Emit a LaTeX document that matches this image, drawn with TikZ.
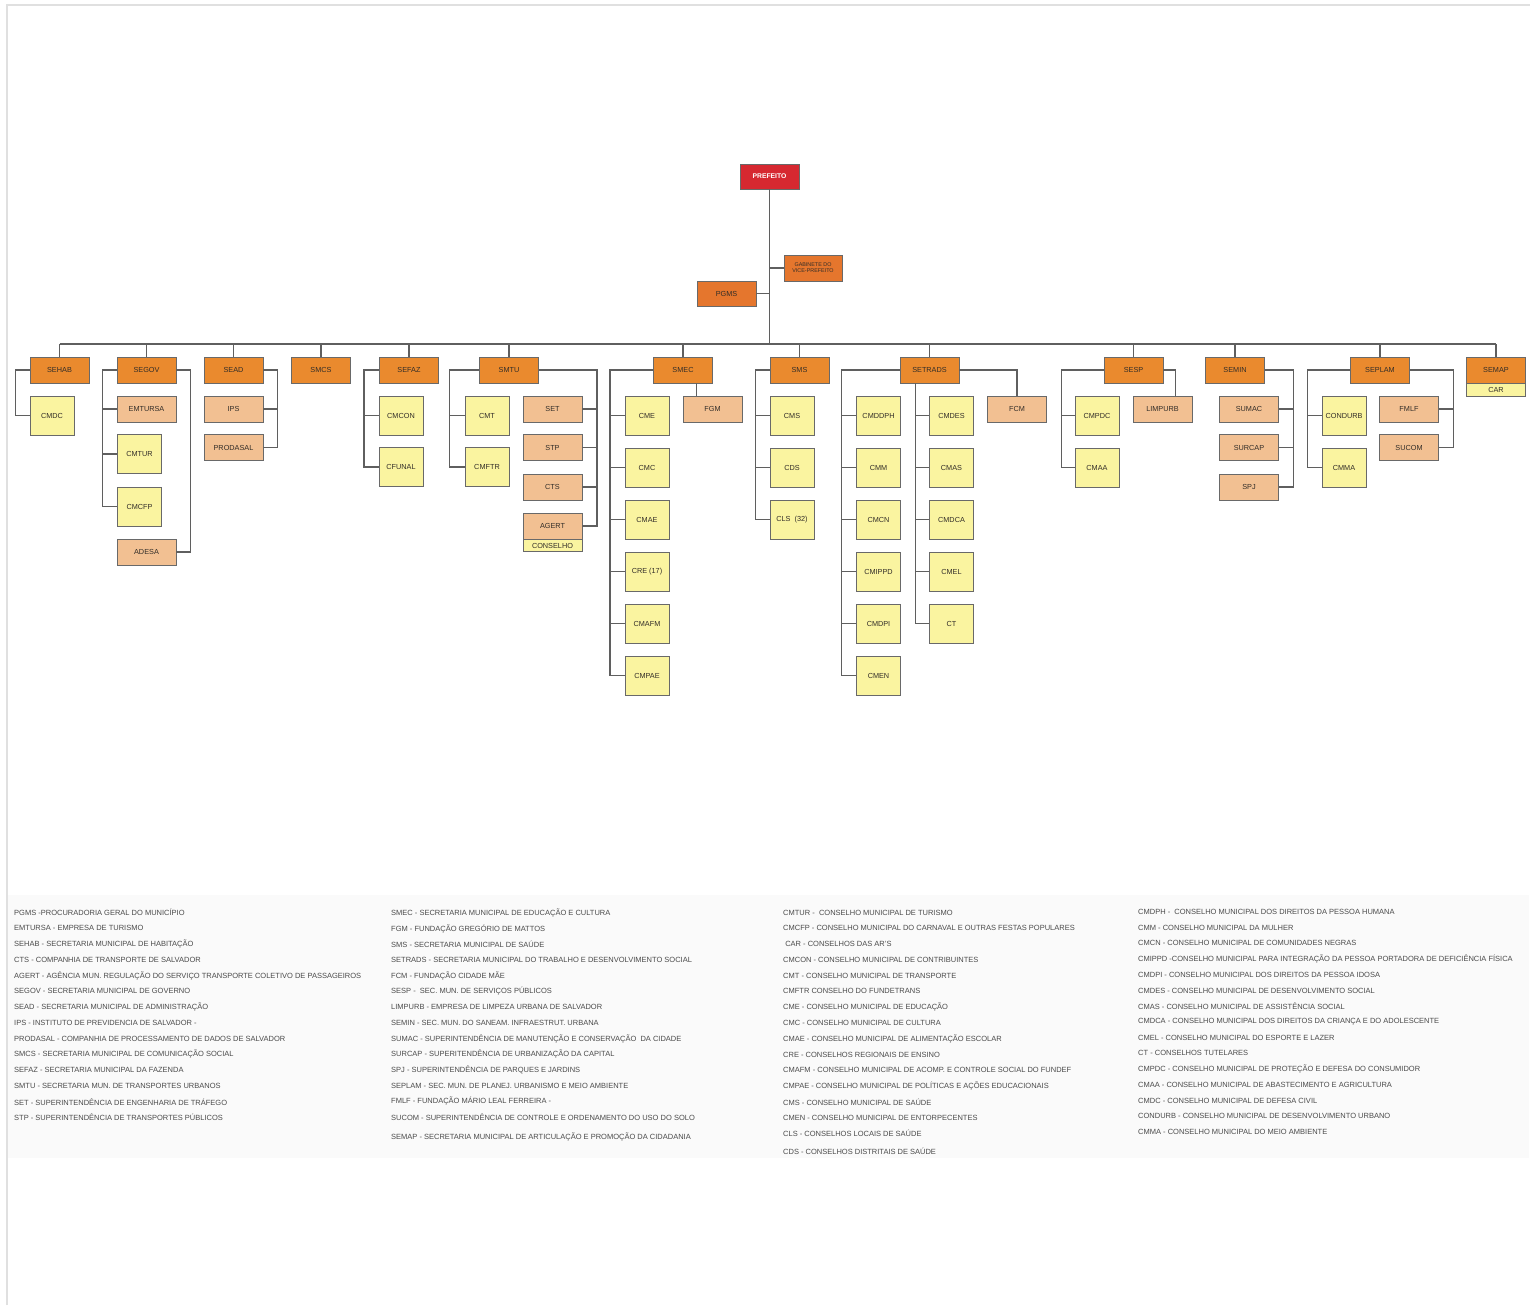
\documentclass[tikz,border=0pt]{standalone}
\usepackage{fontspec}
\setmainfont{Liberation Sans}
\definecolor{orgC}{RGB}{234,138,46}
\definecolor{pgmC}{RGB}{229,118,45}
\definecolor{peachC}{RGB}{242,192,146}
\definecolor{yelC}{RGB}{250,244,160}
\definecolor{redC}{RGB}{214,40,48}
\definecolor{bordC}{RGB}{105,105,105}
\definecolor{lineC}{RGB}{95,95,95}
\definecolor{txtC}{RGB}{50,45,40}
\definecolor{legC}{RGB}{75,75,75}
\tikzset{
  box/.style={draw=bordC, line width=0.9pt, inner sep=0pt, align=center,
              font=\fontsize{7.3}{8}\selectfont, text=txtC},
  topbox/.style={box, fill=orgC, minimum width=59pt, minimum height=26pt},
  subbox/.style={box, fill=peachC, minimum width=59pt, minimum height=26pt},
  conbox/.style={box, fill=yelC, minimum width=44pt, minimum height=39pt},
  bandbox/.style={box, fill=yelC, minimum width=59pt, minimum height=12pt, anchor=north},
  link/.style={draw=lineC, line width=1.3pt},
  leg/.style={anchor=west, inner sep=0pt, font=\fontsize{7.5}{8}\selectfont, text=legC}
}
\begin{document}
\begin{tikzpicture}[x=1pt,y=-1pt]
\useasboundingbox (0,0) rectangle (1533,1307);
\fill[white] (0,0) rectangle (1533,1307);
\fill[black!2] (8,895) rectangle (1529,1158);
\draw[black!12, line width=1.5pt] (7,1305) -- (7,5) -- (1530,5);

% ---------- top ----------
\node[box, fill=redC, minimum width=59pt, minimum height=25pt, text=white,
      font=\fontsize{6.8}{8}\bfseries] (prefeito) at (769.5,176.5) {PREFEITO};
\node[box, fill=pgmC, minimum width=58pt, minimum height=26pt,
      font=\fontsize{5.4}{6}\selectfont] (gab) at (813,268) {GABINETE DO\\VICE-PREFEITO};
\node[box, fill=pgmC, minimum width=59pt, minimum height=25pt] (pgms) at (726.5,293.5) {PGMS};
\coordinate (bus) at (769.5,344);

% ---------- secretarias ----------
\node[topbox] (sehab)   at (59.5,370)  {SEHAB};
\node[topbox] (segov)   at (146.5,370) {SEGOV};
\node[topbox] (sead)    at (233.5,370) {SEAD};
\node[topbox] (smcs)    at (321,370)   {SMCS};
\node[topbox] (sefaz)   at (409,370)   {SEFAZ};
\node[topbox] (smtu)    at (509,370)   {SMTU};
\node[topbox] (smec)    at (683,370)   {SMEC};
\node[topbox] (sms)     at (799.5,370) {SMS};
\node[topbox] (setrads) at (929.5,370) {SETRADS};
\node[topbox] (sesp)    at (1133.5,370){SESP};
\node[topbox] (semin)   at (1235,370)  {SEMIN};
\node[topbox] (seplam)  at (1380,370)  {SEPLAM};
\node[topbox] (semap)   at (1496,370)  {SEMAP};
\node[bandbox, minimum height=13pt] (car) at (semap.south) {CAR};

% ---------- children ----------
\node[conbox] (cmdc) at (52,415.5) {CMDC};

\node[subbox] (emtursa) at (146.5,409) {EMTURSA};
\node[conbox] (cmtur)   at (139.5,454) {CMTUR};
\node[conbox] (cmcfp)   at (139.5,506.5) {CMCFP};
\node[subbox] (adesa)   at (146.5,552) {ADESA};

\node[subbox] (ips)      at (233.5,409)   {IPS};
\node[subbox] (prodasal) at (233.5,447.5) {PRODASAL};

\node[conbox] (cmcon)  at (401,415.5) {CMCON};
\node[conbox] (cfunal) at (401,467)   {CFUNAL};

\node[conbox] (cmt)   at (487,415.5) {CMT};
\node[conbox] (cmftr) at (487,467)   {CMFTR};
\node[subbox] (set)   at (552.5,409)   {SET};
\node[subbox] (stp)   at (552.5,447.5) {STP};
\node[subbox] (cts)   at (552.5,487)   {CTS};
\node[subbox] (agert) at (552.5,526)   {AGERT};
\node[bandbox] (conselho) at (agert.south) {CONSELHO};

\node[subbox] (fgm) at (712.5,409) {FGM};
\node[conbox] (cme)   at (647,415.5) {CME};
\node[conbox] (cmc)   at (647,467.5) {CMC};
\node[conbox] (cmae)  at (647,519.5) {CMAE};
\node[conbox] (cre)   at (647,571.5) {CRE (17)};
\node[conbox] (cmafm) at (647,623.5) {CMAFM};
\node[conbox] (cmpae) at (647,675.5) {CMPAE};

\node[conbox] (cms) at (792,415.5) {CMS};
\node[conbox] (cds) at (792,467.5) {CDS};
\node[conbox] (cls) at (792,519.5) {CLS\ \ (32)};

\node[conbox] (cmddph) at (878.5,415.5) {CMDDPH};
\node[conbox] (cmm)    at (878.5,467.5) {CMM};
\node[conbox] (cmcn)   at (878.5,519.5) {CMCN};
\node[conbox] (cmippd) at (878.5,571.5) {CMIPPD};
\node[conbox] (cmdpi)  at (878.5,623.5) {CMDPI};
\node[conbox] (cmen)   at (878.5,675.5) {CMEN};
\node[conbox] (cmdes)  at (951.5,415.5) {CMDES};
\node[conbox] (cmas)   at (951.5,467.5) {CMAS};
\node[conbox] (cmdca)  at (951.5,519.5) {CMDCA};
\node[conbox] (cmel)   at (951.5,571.5) {CMEL};
\node[conbox] (ct)     at (951.5,623.5) {CT};
\node[subbox] (fcm)    at (1017,409)    {FCM};

\node[conbox] (cmpdc)   at (1097,415.5)  {CMPDC};
\node[conbox] (cmaa)    at (1097,467.5)  {CMAA};
\node[subbox] (limpurb) at (1162.5,409)  {LIMPURB};

\node[subbox] (sumac)  at (1249,409)   {SUMAC};
\node[subbox] (surcap) at (1249,447.5) {SURCAP};
\node[subbox] (spj)    at (1249,487)   {SPJ};

\node[conbox] (condurb) at (1344,415.5) {CONDURB};
\node[conbox] (cmma)    at (1344,467.5) {CMMA};
\node[subbox] (fmlf)    at (1409,409)   {FMLF};
\node[subbox] (sucom)   at (1409,447.5) {SUCOM};

% ---------- connectors ----------
\draw[link] (prefeito.south) -- (bus);
\draw[link] (prefeito.south |- gab.west) -- (gab.west);
\draw[link] (pgms.east) -- (prefeito.south |- pgms.east);
\draw[link] (sehab.north |- bus) -- (semap.north |- bus);
\foreach \n in {sehab,segov,sead,smcs,sefaz,smtu,smec,sms,setrads,sesp,semin,seplam,semap}
  \draw[link] (\n.north) -- (\n.north |- bus);

\draw[link] (sehab.west) -- ++(-14,0) |- (cmdc.west);

\draw[link] (segov.west) -- ++(-14,0) coordinate (gL) |- (cmcfp.west);
\foreach \n in {emtursa,cmtur} \draw[link] (gL |- \n.west) -- (\n.west);
\draw[link] (segov.east) -- ++(14,0) |- (adesa.east);

\draw[link] (sead.east) -- ++(14,0) coordinate (sR) |- (prodasal.east);
\draw[link] (sR |- ips.east) -- (ips.east);

\draw[link] (sefaz.west) -- ++(-15,0) coordinate (fL) |- (cfunal.west);
\draw[link] (fL |- cmcon.west) -- (cmcon.west);

\draw[link] (smtu.west) -- ++(-29.5,0) coordinate (tL) |- (cmftr.west);
\draw[link] (tL |- cmt.west) -- (cmt.west);
\draw[link] (smtu.east) -- ++(58,0) coordinate (tR) |- (agert.east);
\foreach \n in {set,stp,cts} \draw[link] (tR |- \n.east) -- (\n.east);

\draw[link] (smec.west) -- ++(-43,0) coordinate (eL) |- (cmpae.west);
\foreach \n in {cme,cmc,cmae,cre,cmafm} \draw[link] (eL |- \n.west) -- (\n.west);
\draw[link] ([xshift=14pt]fgm.north west) -- ([xshift=14pt]fgm.north west |- smec.south);

\draw[link] (sms.west) -- ++(-14,0) coordinate (mL) |- (cls.west);
\foreach \n in {cms,cds} \draw[link] (mL |- \n.west) -- (\n.west);

\draw[link] (setrads.west) -- ++(-58,0) coordinate (dL) |- (cmen.west);
\foreach \n in {cmddph,cmm,cmcn,cmippd,cmdpi} \draw[link] (dL |- \n.west) -- (\n.west);
\draw[link] ([xshift=16pt]setrads.south west) coordinate (dM) |- (ct.west);
\foreach \n in {cmdes,cmas,cmdca,cmel} \draw[link] (dM |- \n.west) -- (\n.west);
\draw[link] (setrads.east) -| (fcm.north);

\draw[link] (sesp.west) -- ++(-42,0) coordinate (pL) |- (cmaa.west);
\draw[link] (pL |- cmpdc.west) -- (cmpdc.west);
\draw[link] (sesp.east) -| ([xshift=43pt]limpurb.north west);

\draw[link] (semin.east) -- ++(28.5,0) coordinate (nR) |- (spj.east);
\foreach \n in {sumac,surcap} \draw[link] (nR |- \n.east) -- (\n.east);

\draw[link] (seplam.west) -- ++(-42.5,0) coordinate (lL) |- (cmma.west);
\draw[link] (lL |- condurb.west) -- (condurb.west);
\draw[link] (seplam.east) -- ++(43.5,0) coordinate (lR) |- (sucom.east);
\draw[link] (lR |- fmlf.east) -- (fmlf.east);

% ---------- legend ----------
\foreach \t [count=\i from 0] in {
 {PGMS -PROCURADORIA GERAL DO MUNICÍPIO},
 {EMTURSA - EMPRESA DE TURISMO},
 {SEHAB - SECRETARIA MUNICIPAL DE HABITAÇÃO},
 {CTS - COMPANHIA DE TRANSPORTE DE SALVADOR},
 {AGERT - AGÊNCIA MUN. REGULAÇÃO DO SERVIÇO TRANSPORTE COLETIVO DE PASSAGEIROS},
 {SEGOV - SECRETARIA MUNICIPAL DE GOVERNO},
 {SEAD - SECRETARIA MUNICIPAL DE ADMINISTRAÇÃO},
 {IPS - INSTITUTO DE PREVIDENCIA DE SALVADOR -},
 {PRODASAL - COMPANHIA DE PROCESSAMENTO DE DADOS DE SALVADOR},
 {SMCS - SECRETARIA MUNICIPAL DE COMUNICAÇÃO SOCIAL},
 {SEFAZ - SECRETARIA MUNICIPAL DA FAZENDA},
 {SMTU - SECRETARIA MUN. DE TRANSPORTES URBANOS},
 {SET - SUPERINTENDÊNCIA DE ENGENHARIA DE TRÁFEGO},
 {STP - SUPERINTENDÊNCIA DE TRANSPORTES PÚBLICOS}}
  \node[leg] (la\i) at (14, 912.5+15.77*\i) {\t};

\foreach \t [count=\i from 0] in {
 {SMEC - SECRETARIA MUNICIPAL DE EDUCAÇÃO E CULTURA},
 {FGM - FUNDAÇÃO GREGÓRIO DE MATTOS},
 {SMS - SECRETARIA MUNICIPAL DE SAÚDE},
 {SETRADS - SECRETARIA MUNICIPAL DO TRABALHO E DESENVOLVIMENTO SOCIAL},
 {FCM - FUNDAÇÃO CIDADE MÃE},
 {SESP -\ \ SEC. MUN. DE SERVIÇOS PÚBLICOS},
 {LIMPURB - EMPRESA DE LIMPEZA URBANA DE SALVADOR},
 {SEMIN - SEC. MUN. DO SANEAM. INFRAESTRUT. URBANA},
 {SUMAC - SUPERINTENDÊNCIA DE MANUTENÇÃO E CONSERVAÇÃO\ \ DA CIDADE},
 {SURCAP - SUPERITENDÊNCIA DE URBANIZAÇÃO DA CAPITAL},
 {SPJ - SUPERINTENDÊNCIA DE PARQUES E JARDINS},
 {SEPLAM - SEC. MUN. DE PLANEJ. URBANISMO E MEIO AMBIENTE},
 {FMLF - FUNDAÇÃO MÁRIO LEAL FERREIRA -},
 {SUCOM - SUPERINTENDÊNCIA DE CONTROLE E ORDENAMENTO DO USO DO SOLO}}
  \node[leg] (lb\i) at (391, 913+15.7*\i) {\t};
\node[leg] (lbx) at (391,1136.5) {SEMAP - SECRETARIA MUNICIPAL DE ARTICULAÇÃO E PROMOÇÃO DA CIDADANIA};

\foreach \t [count=\i from 0] in {
 {CMTUR -\ \ CONSELHO MUNICIPAL DE TURISMO},
 {CMCFP - CONSELHO MUNICIPAL DO CARNAVAL E OUTRAS FESTAS POPULARES},
 {\ CAR - CONSELHOS DAS AR'S},
 {CMCON - CONSELHO MUNICIPAL DE CONTRIBUINTES},
 {CMT - CONSELHO MUNICIPAL DE TRANSPORTE},
 {CMFTR CONSELHO DO FUNDETRANS},
 {CME - CONSELHO MUNICIPAL DE EDUCAÇÃO},
 {CMC - CONSELHO MUNICIPAL DE CULTURA},
 {CMAE - CONSELHO MUNICIPAL DE ALIMENTAÇÃO ESCOLAR},
 {CRE - CONSELHOS REGIONAIS DE ENSINO},
 {CMAFM - CONSELHO MUNICIPAL DE ACOMP. E CONTROLE SOCIAL DO FUNDEF},
 {CMPAE - CONSELHO MUNICIPAL DE POLÍTICAS E AÇÕES EDUCACIONAIS},
 {CMS - CONSELHO MUNICIPAL DE SAÚDE},
 {CMEN - CONSELHO MUNICIPAL DE ENTORPECENTES},
 {CLS - CONSELHOS LOCAIS DE SAÚDE}}
  \node[leg] (lc\i) at (783, 912.5+15.78*\i) {\t};
\node[leg] (lcx) at (783,1151.5) {CDS - CONSELHOS DISTRITAIS DE SAÚDE};

\foreach \t [count=\i from 0] in {
 {CMDPH -\ \ CONSELHO MUNICIPAL DOS DIREITOS DA PESSOA HUMANA},
 {CMM - CONSELHO MUNICIPAL DA MULHER},
 {CMCN - CONSELHO MUNICIPAL DE COMUNIDADES NEGRAS},
 {CMIPPD -CONSELHO MUNICIPAL PARA INTEGRAÇÃO DA PESSOA PORTADORA DE DEFICIÊNCIA FÍSICA},
 {CMDPI - CONSELHO MUNICIPAL DOS DIREITOS DA PESSOA IDOSA},
 {CMDES - CONSELHO MUNICIPAL DE DESENVOLVIMENTO SOCIAL},
 {CMAS - CONSELHO MUNICIPAL DE ASSISTÊNCIA SOCIAL},
 {CMDCA - CONSELHO MUNICIPAL DOS DIREITOS DA CRIANÇA E DO ADOLESCENTE},
 {CMEL - CONSELHO MUNICIPAL DO ESPORTE E LAZER},
 {CT - CONSELHOS TUTELARES},
 {CMPDC - CONSELHO MUNICIPAL DE PROTEÇÃO E DEFESA DO CONSUMIDOR},
 {CMAA - CONSELHO MUNICIPAL DE ABASTECIMENTO E AGRICULTURA},
 {CMDC - CONSELHO MUNICIPAL DE DEFESA CIVIL},
 {CONDURB - CONSELHO MUNICIPAL DE DESENVOLVIMENTO URBANO},
 {CMMA - CONSELHO MUNICIPAL DO MEIO AMBIENTE}}
  \node[leg] (ld\i) at (1138, 912+15.7*\i) {\t};
\end{tikzpicture}
\end{document}
